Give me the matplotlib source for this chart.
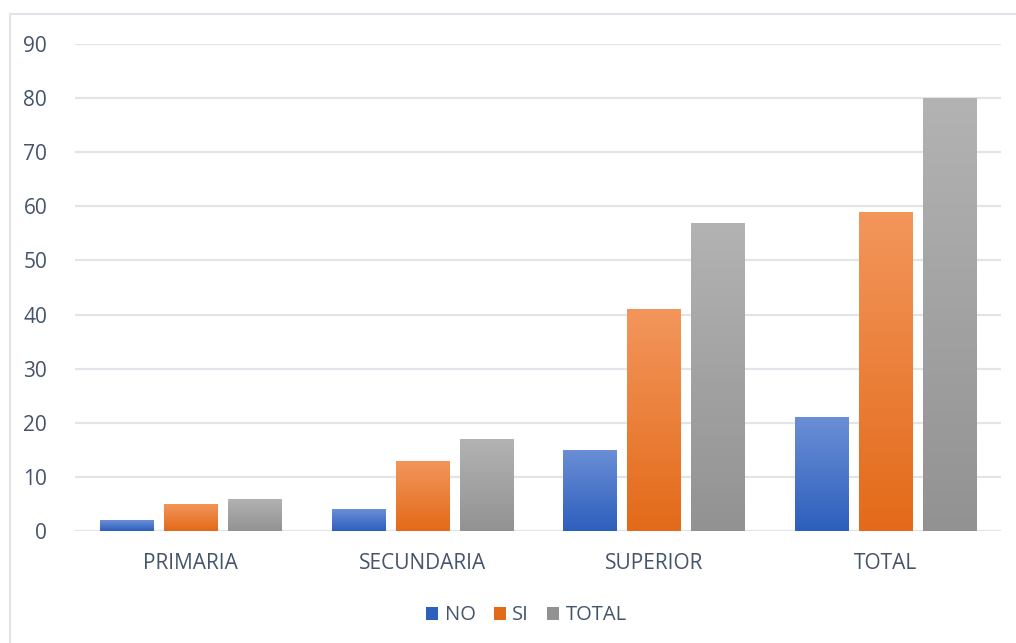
import numpy as np
import matplotlib.pyplot as plt
from matplotlib.colors import LinearSegmentedColormap
from matplotlib.patches import Rectangle

plt.rcParams['font.family'] = ['Open Sans', 'DejaVu Sans']

categories = ['PRIMARIA', 'SECUNDARIA', 'SUPERIOR', 'TOTAL']
series_names = ['NO', 'SI', 'TOTAL']
no_vals = [2, 4, 15, 21]
si_vals = [5, 13, 41, 59]
total_vals = [6, 17, 57, 80]
y_ticks = [0, 10, 20, 30, 40, 50, 60, 70, 80, 90]

# (top colour, bottom colour) for each series gradient
gradients = [('#6b8fd6', '#2d5fbd'),
             ('#f3965c', '#e36a19'),
             ('#b3b3b3', '#929292')]

text_color = '#44546a'
grid_color = '#e1e5ea'

fig = plt.figure(figsize=(10.16, 6.43), dpi=100)
ax = fig.add_axes([0.0738, 0.1742, 0.9114, 0.7574])

# light frame round the chart area (right and bottom edges fall outside)
fig.patches.append(Rectangle((10 / 1016, -0.1), 1.2, 1.1 - 14.5 / 643,
                             transform=fig.transFigure, fill=False,
                             edgecolor='#dfe4ec', linewidth=1.5))

x = np.arange(len(categories))
width = 0.229
step = 0.276
series = [no_vals, si_vals, total_vals]

grad = np.linspace(1, 0, 256).reshape(-1, 1)
handles = []
for k, vals in enumerate(series):
    top, bottom = gradients[k]
    cmap = LinearSegmentedColormap.from_list('g%d' % k, [bottom, top])
    bars = ax.bar(x + (k - 1) * step, vals, width, color='none',
                  edgecolor='none', label=series_names[k], zorder=3)
    for b in bars:
        x0, y0 = b.get_x(), b.get_y()
        w, h = b.get_width(), b.get_height()
        im = ax.imshow(grad, cmap=cmap, vmin=0, vmax=1, aspect='auto',
                       extent=(x0, x0 + w, y0, y0 + h), zorder=3,
                       interpolation='bilinear')
        im.set_clip_path(b)
    handles.append(Rectangle((0, 0), 1, 1, facecolor=top, edgecolor='none'))

ax.set_xlim(-0.5, len(categories) - 0.5)
ax.set_ylim(0, 90)
ax.set_yticks(y_ticks)
ax.set_xticks(x)
ax.set_xticklabels(categories)
ax.yaxis.grid(True, color=grid_color, linewidth=1.6, zorder=0)
ax.set_axisbelow(True)
for s in ax.spines.values():
    s.set_visible(False)
ax.tick_params(axis='both', length=0, labelsize=15, colors=text_color)
ax.tick_params(axis='y', pad=20)
ax.tick_params(axis='x', pad=16)

leg = fig.legend(handles, series_names, loc='center', ncol=3,
                 bbox_to_anchor=(0.518, 0.043), frameon=False, fontsize=14.5,
                 handlelength=0.62, handleheight=0.62, handletextpad=0.3,
                 columnspacing=0.9)
for t in leg.get_texts():
    t.set_color(text_color)

# legend swatches use the darker gradient end
for k, h in enumerate(leg.legend_handles):
    h.set_facecolor(gradients[k][1])

fig.savefig('out.png', dpi=100)
